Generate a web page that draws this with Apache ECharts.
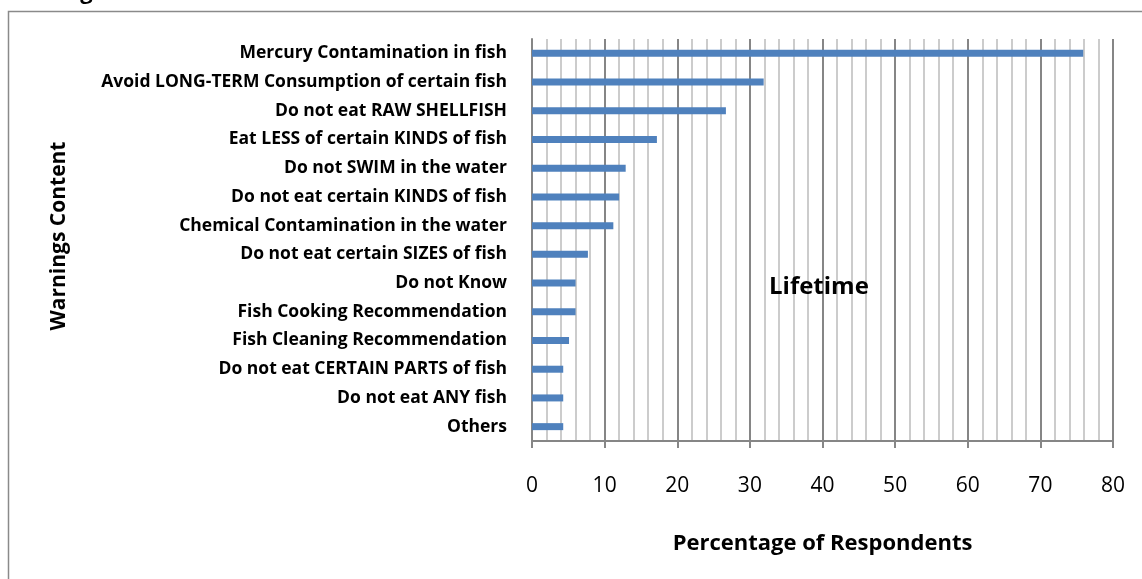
<!DOCTYPE html>
<html>
<head>
<meta charset="utf-8">
<script src="https://cdn.jsdelivr.net/npm/echarts@6/dist/echarts.min.js"></script>
<style>html,body{margin:0;padding:0;background:#fff;}#c{width:1142px;height:579px;}</style>
</head>
<body>
<div id="c"></div>
<script>
const categories = [
  'Mercury Contamination in fish',
  'Avoid LONG-TERM Consumption of certain fish',
  'Do not eat RAW SHELLFISH',
  'Eat LESS of certain KINDS of fish',
  'Do not SWIM in the water',
  'Do not eat certain KINDS of fish',
  'Chemical Contamination in the water',
  'Do not eat certain SIZES of fish',
  'Do not Know',
  'Fish Cooking Recommendation',
  'Fish Cleaning Recommendation',
  'Do not eat CERTAIN PARTS of fish',
  'Do not eat ANY fish',
  'Others'
];
const lifetime = [75.9, 31.9, 26.7, 17.2, 12.9, 12.0, 11.2, 7.7, 6.0, 6.0, 5.1, 4.3, 4.3, 4.3];
const xTicks = [0, 10, 20, 30, 40, 50, 60, 70, 80];

const FONT = '"Open Sans"';
const chart = echarts.init(document.getElementById('c'), null, {renderer: 'canvas'});
chart.setOption({
  animation: false,
  backgroundColor: '#fff',
  grid: {left: 532, right: 29, top: 39, bottom: 138, containLabel: false},
  graphic: [
    {type: 'rect', shape: {x: 8.5, y: 11.5, width: 1200, height: 600},
     style: {fill: 'none', stroke: '#8a8a8a', lineWidth: 1.5}, z: -1},
    {type: 'text', left: 0, top: -18,
     style: {text: 'Warnings', font: 'bold 22px "Open Sans"', fill: '#000'}},
    {type: 'text', left: 769, top: 275, z: 100,
     style: {text: 'Lifetime', font: 'bold 24px "Open Sans"', fill: '#000'}}
  ],
  xAxis: {
    type: 'value', min: xTicks[0], max: xTicks[xTicks.length - 1], interval: 10,
    name: 'Percentage of Respondents', nameLocation: 'middle', nameGap: 92,
    nameTextStyle: {fontFamily: FONT, fontWeight: 'bold', fontSize: 22, color: '#000'},
    axisLine: {show: true, lineStyle: {color: '#868686', width: 2}},
    axisTick: {show: true, length: 7, lineStyle: {color: '#868686', width: 2}},
    axisLabel: {fontFamily: FONT, fontSize: 21, color: '#000', margin: 35},
    splitLine: {show: true, lineStyle: {color: '#868686', width: 2}},
    minorTick: {show: false, splitNumber: 5},
    minorSplitLine: {show: true, lineStyle: {color: '#bcbcbc', width: 1.5}}
  },
  yAxis: {
    type: 'category', data: categories, inverse: true,
    name: 'Warnings Content', nameLocation: 'middle', nameGap: 462, nameRotate: 90,
    nameTextStyle: {fontFamily: FONT, fontWeight: 'bold', fontSize: 21, color: '#000', padding: [0, 0, 0, 8]},
    axisLine: {show: true, lineStyle: {color: '#868686', width: 2}},
    axisTick: {show: false},
    axisLabel: {fontFamily: FONT, fontWeight: 'bold', fontSize: 17.5, color: '#000', margin: 25},
    splitLine: {show: false}
  },
  series: [{
    type: 'bar', data: lifetime, barWidth: 7,
    itemStyle: {color: '#4f81bd'}
  }]
});
</script>
</body>
</html>
